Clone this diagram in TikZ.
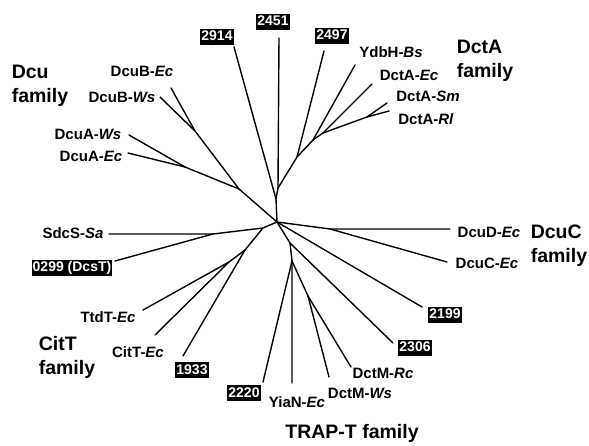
\documentclass[tikz,border=0pt]{standalone}
\usepackage{fontspec}
\setmainfont{Liberation Sans}
\begin{document}
\begin{tikzpicture}[x=1pt,y=-1pt,
  br/.style={line width=1.4pt, line cap=round, line join=round},
  lab/.style={font=\fontsize{15}{17}\selectfont\bfseries, inner sep=0pt, text height=10.7pt, text depth=0pt},
  fam/.style={font=\fontsize{19.5}{24}\selectfont\bfseries, inner sep=0pt, align=left},
  idbox/.style={fill=black, text=white, font=\fontsize{14}{16}\selectfont\bfseries, inner xsep=1pt, inner ysep=1.5pt, text height=10.5pt, text depth=2.5pt}]
\useasboundingbox (0,0) rectangle (589,446);

% labels
\node[idbox] (n2451) at (273,22) {2451};
\node[idbox] (n2914) at (217,37) {2914};
\node[idbox] (n2497) at (332,36) {2497};
\node[lab] (ydbh) at (391,52) {YdbH-\textit{Bs}};
\node[lab] (dctaec) at (409,75) {DctA-\textit{Ec}};
\node[lab] (dctasm) at (428,96) {DctA-\textit{Sm}};
\node[lab] (dctarl) at (426,119) {DctA-\textit{Rl}};
\node[fam] (famdcta) at (485,61) {DctA\\family};
\node[fam] (famdcu) at (40,86) {Dcu\\family};
\node[lab] (dcubec) at (142,71) {DcuB-\textit{Ec}};
\node[lab] (dcubws) at (122,97) {DcuB-\textit{Ws}};
\node[lab] (dcuaws) at (88,134) {DcuA-\textit{Ws}};
\node[lab] (dcuaec) at (91,156) {DcuA-\textit{Ec}};
\node[lab] (sdcs) at (73,233) {SdcS-\textit{Sa}};
\node[idbox] (n0299) at (72,268) {0299 (DcsT)};
\node[lab] (ttdt) at (108,317) {TtdT-\textit{Ec}};
\node[lab] (citt) at (138,352) {CitT-\textit{Ec}};
\node[fam] (famcitt) at (67,357) {CitT\\family};
\node[idbox] (n1933) at (192,370) {1933};
\node[idbox] (n2220) at (244,393) {2220};
\node[lab] (yian) at (297,402) {YiaN-\textit{Ec}};
\node[lab] (dctmws) at (360,393) {DctM-\textit{Ws}};
\node[lab] (dctmrc) at (383,373) {DctM-\textit{Rc}};
\node[idbox] (n2306) at (415,348) {2306};
\node[idbox] (n2199) at (445,315) {2199};
\node[lab] (dcucec) at (487,263) {DcuC-\textit{Ec}};
\node[lab] (dcudec) at (489,232) {DcuD-\textit{Ec}};
\node[fam] (famdcuc) at (559,246) {DcuC\\family};
\node[fam] (famtrap) at (352,433) {TRAP-T family};

% internal nodes
\coordinate (C) at (277,222);
\coordinate (A) at (276,199);
\coordinate (A2) at (278,188);
\coordinate (B1) at (297,157);
\coordinate (B2) at (313,140);
\coordinate (B3) at (323,133);
\coordinate (B4) at (367,117);
\coordinate (D1) at (239,189);
\coordinate (D2) at (185,167);
\coordinate (D3) at (195,131);
\coordinate (N1) at (263,228);
\coordinate (N2) at (213,234);
\coordinate (N3) at (245,250);
\coordinate (N4) at (229,262);
\coordinate (E1) at (330,229);
\coordinate (T1) at (290,243);
\coordinate (T2) at (292,261);
\coordinate (T3) at (308,296);

% leaf ends
\coordinate (l2914) at (234,47);
\coordinate (l2451) at (279,38);
\coordinate (l2497) at (324,51);
\coordinate (lydbh) at (355,65);
\coordinate (ldctaec) at (372,84);
\coordinate (ldctasm) at (387,103);
\coordinate (ldctarl) at (389,111);
\coordinate (ldcubec) at (171,88);
\coordinate (ldcubws) at (160,97);
\coordinate (ldcuaws) at (129,135);
\coordinate (ldcuaec) at (128,153);
\coordinate (lsdcs) at (109,234);
\coordinate (l0299) at (115,261);
\coordinate (lttdt) at (143,310);
\coordinate (lcitt) at (155,335);
\coordinate (l1933) at (183,356);
\coordinate (l2220) at (263,382);
\coordinate (lyian) at (292,383);
\coordinate (ldctmws) at (329,377);
\coordinate (ldctmrc) at (351,367);
\coordinate (l2306) at (393,343);
\coordinate (l2199) at (422,307);
\coordinate (ldcuc) at (447,262);
\coordinate (ldcud) at (450,229);

% branches
\draw[br] (C) -- (A) -- (l2914);
\draw[br] (A) -- (A2) -- (l2451);
\draw[br] (A2) -- (B1) -- (l2497);
\draw[br] (B1) -- (B2) -- (lydbh);
\draw[br] (B2) -- (B3) -- (ldctaec);
\draw[br] (B3) -- (B4) -- (ldctasm);
\draw[br] (B4) -- (ldctarl);

\draw[br] (C) -- (D1) -- (D2) -- (ldcuaws);
\draw[br] (D2) -- (ldcuaec);
\draw[br] (D1) -- (D3) -- (ldcubec);
\draw[br] (D3) -- (ldcubws);

\draw[br] (C) -- (N1) -- (N2) -- (lsdcs);
\draw[br] (N2) -- (l0299);
\draw[br] (N1) -- (N3) -- (l1933);
\draw[br] (N3) -- (N4) -- (lttdt);
\draw[br] (N4) -- (lcitt);

\draw[br] (C) -- (E1) -- (ldcud);
\draw[br] (E1) -- (ldcuc);
\draw[br] (C) -- (l2199);
\draw[br] (C) -- (T1) -- (l2306);
\draw[br] (T1) -- (T2) -- (lyian);
\draw[br] (T2) -- (l2220);
\draw[br] (T2) -- (T3) -- (ldctmws);
\draw[br] (T3) -- (ldctmrc);
\end{tikzpicture}
\end{document}
